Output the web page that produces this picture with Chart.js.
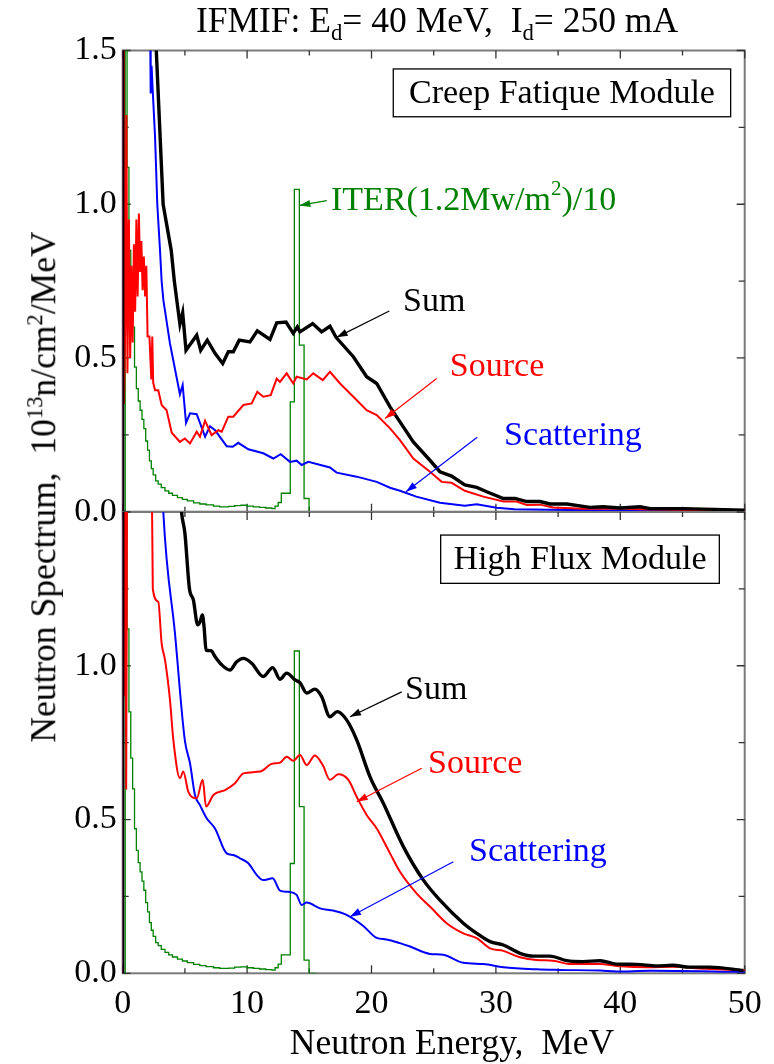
<!DOCTYPE html>
<html><head><meta charset="utf-8">
<script src="https://cdn.jsdelivr.net/npm/chart.js@4"></script>
<style>
html,body{margin:0;padding:0;background:#fff;}
#wrap{position:relative;width:774px;height:1064px;overflow:hidden;font-family:"Liberation Serif","Times New Roman",serif;background:#fff;}
canvas{position:absolute;left:0;}
.t{position:absolute;white-space:nowrap;font-size:35.5px;color:#000;line-height:1;}
.t sub,.t sup{font-size:64%;line-height:0;}
#title{left:437px;top:3px;transform:translateX(-50%);}
#ytitle{left:44px;top:487px;transform:translate(-50%,-50%) rotate(-90deg);}
#xtitle{left:452px;top:1043px;transform:translate(-50%,-50%);}
</style></head><body>
<div id="wrap">
<canvas id="cTop" width="774" height="540" style="top:0;width:774px;height:540px"></canvas>
<canvas id="cBot" width="774" height="579" style="top:485px;width:774px;height:579px"></canvas>
<div class="t" id="title">IFMIF: E<sub>d</sub>= 40 MeV,&nbsp; I<sub>d</sub>= 250 mA</div>
<div class="t" id="ytitle">Neutron Spectrum,&nbsp; 10<sup>13</sup>n/cm<sup>2</sup>/MeV</div>
<div class="t" id="xtitle">Neutron Energy,&nbsp; MeV</div>
</div>
<script>
// ---------- tick labels ----------
const energyTicks = [0, 10, 20, 30, 40, 50];
const energyMinorTicks = [5, 15, 25, 35, 45];
const fluxTicksTop = [0, 0.5, 1.0, 1.5];
const fluxTicksBottom = [0, 0.5, 1.0];
const fluxMinorTicks = [0.25, 0.75, 1.25];

// ---------- Creep Fatique Module (top panel) : [E (MeV), flux] ----------
const cfSum = [[0,0],[0.06,40],[1.0,8],[2.0,2.5],[2.7,1.5],[3.25,1.0],[3.9,0.85],[4.15,0.75],[4.6,0.61],[4.82,0.647],[5.09,0.525],[5.95,0.574],[6.27,0.525],[6.8,0.558],[7.42,0.515],[8.04,0.482],[8.49,0.52],[8.89,0.52],[9.37,0.558],[10.23,0.552],[10.82,0.588],[11.84,0.56],[12.38,0.614],[13.13,0.617],[13.71,0.58],[14.04,0.601],[14.25,0.585],[15.27,0.612],[15.99,0.585],[16.66,0.603],[17.15,0.567],[18.54,0.504],[19.61,0.439],[20.42,0.417],[21.49,0.341],[22.29,0.292],[23.36,0.227],[24.57,0.173],[25.5,0.13],[26.44,0.116],[27.5,0.087],[28.46,0.079],[29.26,0.065],[30.6,0.043],[31.54,0.043],[32.48,0.033],[33.55,0.033],[34.35,0.025],[35.7,0.025],[37.56,0.014],[38.6,0.016],[40,0.012],[41.6,0.016],[42.4,0.010],[45.1,0.010],[50,0.005]];
const cfSource = [[0,0],[0.05,3],[0.1,0.35],[0.2,0.6],[0.3,1.29],[0.38,0.45],[0.5,0.95],[0.6,0.5],[0.7,0.8],[0.8,0.55],[0.9,0.87],[1.0,0.65],[1.1,0.95],[1.2,0.7],[1.3,0.97],[1.4,0.78],[1.5,0.88],[1.6,0.72],[1.7,0.83],[1.8,0.7],[1.9,0.8],[2.0,0.57],[2.15,0.57],[2.3,0.43],[2.38,0.57],[2.45,0.42],[2.6,0.395],[2.86,0.395],[3.13,0.347],[3.53,0.33],[3.94,0.257],[4.6,0.227],[5.0,0.238],[5.41,0.222],[5.95,0.26],[6.21,0.244],[6.62,0.296],[7.15,0.249],[7.69,0.265],[7.96,0.26],[8.49,0.309],[8.89,0.309],[9.7,0.347],[10.37,0.352],[10.82,0.39],[11.3,0.374],[11.9,0.379],[12.38,0.433],[12.64,0.422],[13.18,0.45],[13.71,0.417],[13.98,0.439],[14.79,0.43],[15.32,0.45],[16.08,0.428],[16.66,0.455],[17.47,0.417],[18.54,0.374],[19.61,0.33],[20.42,0.314],[21.49,0.271],[22.29,0.233],[23.36,0.173],[24.7,0.13],[25.64,0.097],[26.44,0.094],[27.5,0.068],[28.99,0.049],[30.6,0.033],[31.67,0.033],[32.48,0.022],[33.55,0.023],[34.6,0.014],[37,0.01],[39.7,0.01],[42.4,0.007],[50,0.004]];
const cfScatter = [[0,0],[0.05,40],[1.0,6],[1.8,2.2],[2.2,1.6],[2.25,1.36],[2.32,1.45],[2.4,1.38],[2.6,1.22],[2.78,1.0],[3.0,0.85],[3.13,0.75],[3.27,0.688],[3.8,0.547],[4.6,0.382],[4.82,0.412],[5.09,0.289],[5.41,0.32],[5.95,0.317],[6.62,0.244],[7.02,0.278],[7.42,0.265],[8.36,0.213],[8.84,0.211],[9.29,0.224],[10.1,0.203],[11.3,0.19],[12.11,0.173],[12.7,0.187],[13.45,0.162],[13.98,0.166],[14.39,0.152],[14.92,0.162],[16.66,0.144],[17.2,0.127],[18.81,0.114],[20.42,0.097],[21.49,0.078],[22.29,0.068],[23.6,0.049],[25.5,0.029],[27.5,0.019],[28.46,0.024],[30.06,0.013],[31.5,0.008],[34.35,0.006],[39.7,0.004],[50,0.002]];

// ---------- High Flux Module (bottom panel) ----------
const hfSum = [[0,0],[0.05,40],[1.5,8],[3.0,3],[4.0,1.9],[4.74,1.496],[5.0,1.431],[5.36,1.252],[5.68,1.214],[6.03,1.133],[6.22,1.143],[6.4,1.165],[6.54,1.127],[6.7,1.051],[7.1,1.049],[7.42,1.03],[7.96,1.003],[8.62,0.986],[9.16,1.013],[9.7,1.024],[10.37,1.008],[11.3,0.965],[12.06,0.994],[12.64,0.956],[13.18,0.976],[13.85,0.954],[14.25,0.945],[14.79,0.911],[15.45,0.924],[15.99,0.9],[16.66,0.834],[17.25,0.851],[18.0,0.824],[18.81,0.759],[19.88,0.639],[20.95,0.553],[22.56,0.412],[24.17,0.303],[25.5,0.238],[27.38,0.163],[28.46,0.13],[29.53,0.103],[30.6,0.092],[31.94,0.065],[33.01,0.056],[34.35,0.056],[35.7,0.041],[37.0,0.038],[38.38,0.041],[39.7,0.03],[41.3,0.029],[42.9,0.024],[44.2,0.026],[45.6,0.02],[47.2,0.02],[49.9,0.009]];
const hfSource = [[0,0],[0.05,3],[0.1,2.5],[0.15,0.9],[0.22,1.6],[0.28,0.6],[0.33,1.3],[0.4,3],[1.5,2.5],[2.3,1.8],[2.42,1.25],[2.86,1.208],[3.13,1.073],[3.4,1.019],[3.8,0.889],[4.07,0.759],[4.6,0.634],[4.87,0.656],[5.27,0.591],[5.95,0.569],[6.43,0.629],[6.7,0.542],[7.29,0.58],[8.23,0.596],[9.03,0.618],[9.7,0.65],[11.04,0.656],[11.98,0.681],[12.64,0.685],[13.18,0.704],[13.71,0.691],[14.25,0.71],[14.79,0.677],[15.45,0.708],[16.08,0.677],[16.66,0.629],[17.33,0.647],[18.14,0.629],[18.81,0.574],[19.61,0.515],[20.42,0.471],[21.49,0.39],[22.29,0.33],[23.62,0.26],[24.7,0.217],[26.04,0.163],[27.38,0.13],[28.46,0.114],[29.53,0.081],[30.6,0.073],[31.94,0.052],[33.28,0.043],[34.6,0.041],[35.97,0.03],[38.38,0.03],[39.7,0.024],[42.4,0.02],[44.2,0.021],[46.4,0.016],[50,0.01]];
const hfScatter = [[0,0],[0.05,40],[1.5,6],[2.8,2.0],[3.27,1.496],[4.2,1.106],[4.99,0.759],[5.41,0.683],[5.81,0.58],[6.21,0.547],[6.75,0.504],[7.42,0.471],[8.36,0.39],[8.89,0.385],[9.43,0.374],[10.1,0.358],[10.77,0.32],[11.3,0.303],[12.06,0.309],[12.64,0.269],[13.31,0.265],[13.98,0.255],[14.39,0.222],[14.79,0.23],[15.86,0.211],[16.93,0.204],[18.0,0.19],[19.34,0.154],[20.42,0.115],[21.2,0.11],[22.29,0.098],[23.1,0.087],[24.7,0.063],[25.77,0.06],[27.38,0.034],[28.99,0.03],[30.6,0.02],[33.28,0.013],[35,0.011],[38.4,0.009],[39.7,0.006],[42.4,0.008],[50,0.005]];

// ---------- ITER spectrum /10 (histogram, bin left edge, value) ----------
const iterSpectrum = [[0.15,0],[0.2,3.0],[0.35,1.12],[0.5,0.85],[0.65,0.7],[0.8,0.6],[0.95,0.47],[1.1,0.4],[1.25,0.36],[1.4,0.33],[1.55,0.3],[1.7,0.27],[1.85,0.23],[2.0,0.2],[2.15,0.165],[2.3,0.14],[2.45,0.12],[2.65,0.1],[2.85,0.09],[3.1,0.078],[3.4,0.068],[3.7,0.06],[4.0,0.053],[4.4,0.046],[4.8,0.04],[5.2,0.035],[5.7,0.029],[6.2,0.025],[6.7,0.022],[7.3,0.018],[7.8,0.016],[8.5,0.017],[9.0,0.02],[9.5,0.021],[10.0,0.018],[10.5,0.016],[11.0,0.014],[11.5,0.012],[12.0,0.01],[12.25,0.018],[12.5,0.03],[12.75,0.06],[13.47,0.357],[13.8,1.048],[14.2,0.542],[14.58,0.043],[14.98,0.0],[15.6,0.0]];

const FONT = '"Liberation Serif", "Times New Roman", serif';

const topNotes = {
  box: {text: 'Creep Fatique Module', e0: 21.75, e1: 48.87, v0: 1.2845, v1: 1.440},
  labels: [
    {text: 'Sum', color: '#000', at: [22.53, 0.681], tail: [21.43, 0.653], tip: [17.2, 0.567]},
    {text: 'Source', color: '#ff0000', at: [26.3, 0.470], tail: [25.24, 0.433], tip: [21.09, 0.303]},
    {text: 'Scattering', color: '#0000ff', at: [30.65, 0.246], tail: [28.5, 0.242], tip: [22.77, 0.065]},
    {text: 'ITER(1.2Mw/m', sup: '2', after: ')/10', color: '#008000', at: [16.74, 1.01], tail: [16.4, 1.012], tip: [14.2, 0.996]}
  ]
};
const botNotes = {
  box: {text: 'High Flux Module', e0: 25.56, e1: 47.96, v0: 1.268, v1: 1.425},
  labels: [
    {text: 'Sum', color: '#000', at: [22.7, 0.921], tail: [22.43, 0.915], tip: [18.27, 0.834]},
    {text: 'Source', color: '#ff0000', at: [24.54, 0.681], tail: [24.04, 0.667], tip: [18.81, 0.558]},
    {text: 'Scattering', color: '#0000ff', at: [27.84, 0.395], tail: [26.58, 0.363], tip: [18.27, 0.184]}
  ]
};

function arrow(ctx, x1, y1, x2, y2, color) {
  ctx.strokeStyle = color; ctx.fillStyle = color; ctx.lineWidth = 1.2;
  ctx.beginPath(); ctx.moveTo(x1, y1); ctx.lineTo(x2, y2); ctx.stroke();
  const a = Math.atan2(y2 - y1, x2 - x1), L = 11, W = 3.6;
  ctx.beginPath();
  ctx.moveTo(x2, y2);
  ctx.lineTo(x2 - L*Math.cos(a) + W*Math.sin(a), y2 - L*Math.sin(a) - W*Math.cos(a));
  ctx.lineTo(x2 - L*Math.cos(a) - W*Math.sin(a), y2 - L*Math.sin(a) + W*Math.cos(a));
  ctx.closePath(); ctx.fill();
}

function panelPlugin(notes) {
  return {
    id: 'panel',
    beforeDatasetsDraw(chart) {
      const {ctx, chartArea: a, scales: {x, y}} = chart;
      ctx.save();
      ctx.strokeStyle = '#7a7a7a'; ctx.lineWidth = 2;
      ctx.strokeRect(a.left, a.top, a.right - a.left, a.bottom - a.top);
      ctx.strokeStyle = '#333'; ctx.lineWidth = 1.3;
      ctx.beginPath();
      const xt = energyTicks.map(v => [v, 8]).concat(energyMinorTicks.map(v => [v, 5]));
      xt.forEach(([v, L]) => {
        const px = x.getPixelForValue(v);
        ctx.moveTo(px, a.top); ctx.lineTo(px, a.top + L);
        ctx.moveTo(px, a.bottom); ctx.lineTo(px, a.bottom - L);
      });
      const yt = fluxTicksTop.map(v => [v, 8]).concat(fluxMinorTicks.map(v => [v, 6]));
      yt.forEach(([v, L]) => {
        const py = y.getPixelForValue(v);
        ctx.moveTo(a.left, py); ctx.lineTo(a.left + L, py);
        ctx.moveTo(a.right, py); ctx.lineTo(a.right - L, py);
      });
      ctx.stroke();
      ctx.restore();
    },
    afterDatasetsDraw(chart) {
      const {ctx, scales: {x, y}} = chart;
      const X = e => x.getPixelForValue(e), Y = v => y.getPixelForValue(v);
      ctx.save();
      const b = notes.box;
      const bx0 = X(b.e0), bx1 = X(b.e1), by0 = Y(b.v1), by1 = Y(b.v0);
      ctx.fillStyle = '#fff'; ctx.fillRect(bx0, by0, bx1 - bx0, by1 - by0);
      ctx.strokeStyle = '#000'; ctx.lineWidth = 1.3;
      ctx.strokeRect(bx0, by0, bx1 - bx0, by1 - by0);
      ctx.fillStyle = '#000';
      ctx.font = '34px ' + FONT;
      ctx.textAlign = 'center'; ctx.textBaseline = 'middle';
      ctx.fillText(b.text, (bx0 + bx1) / 2, (by0 + by1) / 2 + 1);
      notes.labels.forEach(l => {
        arrow(ctx, X(l.tail[0]), Y(l.tail[1]), X(l.tip[0]), Y(l.tip[1]), l.color);
        ctx.fillStyle = l.color;
        ctx.textAlign = 'left'; ctx.textBaseline = 'middle';
        ctx.font = '34px ' + FONT;
        let tx = X(l.at[0]); const ty = Y(l.at[1]);
        ctx.fillText(l.text, tx, ty);
        if (l.sup) {
          tx += ctx.measureText(l.text).width;
          ctx.font = '21px ' + FONT;
          ctx.fillText(l.sup, tx, ty - 12);
          tx += ctx.measureText(l.sup).width;
          ctx.font = '34px ' + FONT;
          ctx.fillText(l.after, tx, ty);
        }
      });
      ctx.restore();
    }
  };
}

function datasets(sum, source, scat, smooth) {
  const mode = smooth ? 'monotone' : 'default';
  return [
    {label: 'Sum', data: sum, borderColor: '#000', borderWidth: 3.4, cubicInterpolationMode: mode},
    {label: 'Source', data: source, borderColor: '#ff0000', borderWidth: 2, cubicInterpolationMode: mode},
    {label: 'Scattering', data: scat, borderColor: '#0000ff', borderWidth: 2, cubicInterpolationMode: mode},
    {label: 'ITER(1.2Mw/m2)/10', data: iterSpectrum, borderColor: '#008000', borderWidth: 1.3, stepped: 'before'}
  ].map(d => Object.assign({pointRadius: 0, fill: false, tension: 0, spanGaps: true}, d));
}

function makeChart(id, ds, notes, isBottom) {
  const yTicks = isBottom ? fluxTicksBottom : fluxTicksTop;
  const xOpts = {
    type: 'linear', min: 0, max: 50, display: isBottom,
    grid: {display: false, drawTicks: false}, border: {display: false},
    afterBuildTicks: s => { s.ticks = energyTicks.map(v => ({value: v})); },
    ticks: {color: '#000', font: {family: FONT, size: 34}, padding: 10, maxRotation: 0, autoSkip: false, callback: v => String(v)}
  };
  if (isBottom) xOpts.afterFit = s => { s.height = 90.7; };
  return new Chart(document.getElementById(id), {
    type: 'line',
    data: {datasets: ds},
    options: {
      responsive: false, animation: false, devicePixelRatio: 1,
      layout: {padding: isBottom ? {left: 0, right: 29.3, top: 27, bottom: 0} : {left: 0, right: 29.3, top: 50.5, bottom: 28.3}},
      plugins: {legend: {display: false}, tooltip: {enabled: false}, title: {display: false}},
      scales: {
        x: xOpts,
        y: {
          type: 'linear', min: 0, max: 1.5,
          grid: {display: false, drawTicks: false}, border: {display: false},
          afterBuildTicks: s => { s.ticks = yTicks.map(v => ({value: v})); },
          afterFit: s => { s.width = 122.7; },
          ticks: {color: '#000', font: {family: FONT, size: 34}, padding: 6, callback: v => v.toFixed(1)}
        }
      }
    },
    plugins: [panelPlugin(notes)]
  });
}

makeChart('cTop', datasets(cfSum, cfSource, cfScatter, false), topNotes, false);
makeChart('cBot', datasets(hfSum, hfSource, hfScatter, true), botNotes, true);
</script>
</body></html>
